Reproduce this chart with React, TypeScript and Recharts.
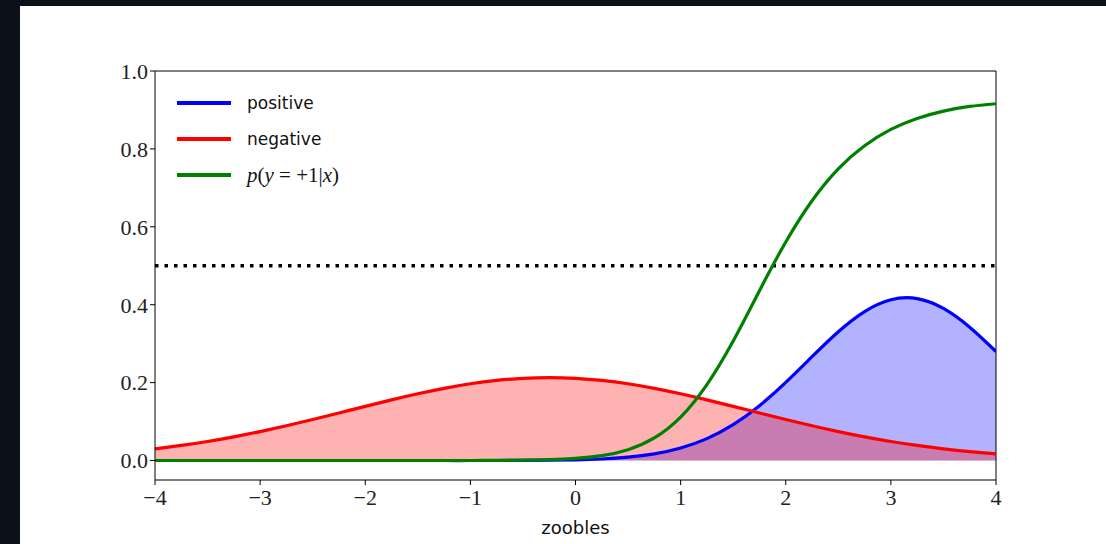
import React from 'react'
import {
  ComposedChart,
  Area,
  Line,
  XAxis,
  YAxis,
  ReferenceLine,
} from 'recharts'

// sample positions along the x axis
const xs = [
  -4, -3.75, -3.5, -3.25, -3, -2.75, -2.5, -2.25, -2, -1.75, -1.5, -1.25, -1, -0.75, -0.5, -0.25,
  0, 0.25, 0.5, 0.75, 1, 1.25, 1.5, 1.75, 2, 2.25, 2.5, 2.75, 3, 3.25, 3.5, 3.75, 4,
]

// class-conditional densities
const positive = [
  0, 0, 0, 0, 0, 0, 0, 0, 0, 0, 0, 0, 0, 0.0001, 0.0003, 0.0007,
  0.0017, 0.0039, 0.0085, 0.017, 0.0321, 0.0563, 0.0921, 0.1407, 0.2005, 0.2665, 0.3306, 0.3824, 0.4128, 0.4157, 0.3905, 0.3422, 0.2798,
]
const negative = [
  0.03, 0.0387, 0.0489, 0.0608, 0.0743, 0.0892, 0.1052, 0.122, 0.139, 0.1557, 0.1713, 0.1853, 0.197, 0.2057, 0.2111, 0.213,
  0.2111, 0.2057, 0.197, 0.1853, 0.1713, 0.1557, 0.139, 0.122, 0.1052, 0.0892, 0.0743, 0.0608, 0.0489, 0.0387, 0.03, 0.0229, 0.0172,
]
// posterior p(y=+1|x)
const posterior = [
  0, 0, 0, 0, 0, 0, 0, 0, 0, 0, 0, 0, 0.0001, 0.0003, 0.0008, 0.0021,
  0.0053, 0.0126, 0.0279, 0.058, 0.1115, 0.195, 0.307, 0.436, 0.561, 0.667, 0.749, 0.808, 0.85, 0.878, 0.897, 0.909, 0.916,
]

const xTicks = [-4, -3, -2, -1, 0, 1, 2, 3, 4]
const yTicks = [0, 0.2, 0.4, 0.6, 0.8, 1.0]

const data = xs.map((x, i) => ({
  x,
  pos: positive[i],
  neg: negative[i],
  post: posterior[i],
}))

const SERIF = '"Liberation Serif", "DejaVu Serif", serif'
const SANS = '"DejaVu Sans", "Open Sans", sans-serif'

const fmtX = (v: number) => (v < 0 ? `\u2212${Math.abs(v)}` : `${v}`)

function LegendBox() {
  const items = [
    { color: '#0000ff', label: <span style={{ fontFamily: SANS }}>positive</span> },
    { color: '#ff0000', label: <span style={{ fontFamily: SANS }}>negative</span> },
    {
      color: '#008000',
      label: (
        <span style={{ fontFamily: SERIF, fontSize: 21 }}>
          <i>p</i>(<i>y</i> = +1|<i>x</i>)
        </span>
      ),
    },
  ]
  return (
    <div style={{ display: 'flex', flexDirection: 'column', gap: 12 }}>
      {items.map((it, i) => (
        <div key={i} style={{ display: 'flex', alignItems: 'center', height: 24 }}>
          <div style={{ width: 54, height: 3.5, background: it.color, marginRight: 16 }} />
          <div style={{ fontSize: 17, color: '#111' }}>{it.label}</div>
        </div>
      ))}
    </div>
  )
}

export default function App() {
  return (
    <div
      style={{
        position: 'fixed',
        left: 0,
        top: 0,
        width: 1106,
        height: 544,
        background: '#0b1118',
      }}
    >
      <div
        style={{
          position: 'absolute',
          left: 20,
          top: 6,
          width: 1086,
          height: 538,
          background: '#ffffff',
        }}
      />
      <div style={{ position: 'absolute', left: 0, top: 0 }}>
        <ComposedChart
          width={1106}
          height={544}
          data={data}
          margin={{ top: 71, right: 110, bottom: 22, left: 95 }}
        >
          <XAxis
            dataKey="x"
            type="number"
            domain={[-4, 4]}
            ticks={xTicks}
            tickFormatter={fmtX}
            allowDataOverflow
            height={42}
            stroke="#000"
            tickSize={5}
            tickMargin={4}
            tick={{ fill: '#222', fontFamily: SERIF, fontSize: 22 }}
            label={{
              value: 'zoobles',
              position: 'insideBottom',
              offset: -12,
              style: { fill: '#111', fontFamily: SANS, fontSize: 18 },
            }}
          />
          <YAxis
            type="number"
            domain={[-0.05, 1]}
            ticks={yTicks}
            tickFormatter={(v: number) => v.toFixed(1)}
            allowDataOverflow
            width={60}
            stroke="#000"
            tickSize={5}
            tick={{ fill: '#222', fontFamily: SERIF, fontSize: 22 }}
          />
          <ReferenceLine y={1} stroke="#000" strokeWidth={1} />
          <ReferenceLine x={4} stroke="#000" strokeWidth={1} />
          <Area
            dataKey="pos"
            type="natural"
            stroke="none"
            fill="#0000ff"
            fillOpacity={0.3}
            baseValue={0}
            isAnimationActive={false}
          />
          <Area
            dataKey="neg"
            type="natural"
            stroke="none"
            fill="#ff0000"
            fillOpacity={0.3}
            baseValue={0}
            isAnimationActive={false}
          />
          <ReferenceLine
            y={0.5}
            stroke="#000"
            strokeWidth={3.5}
            strokeDasharray="3.5 6"
          />
          <Line
            dataKey="pos"
            type="natural"
            stroke="#0000ff"
            strokeWidth={3.2}
            dot={false}
            isAnimationActive={false}
          />
          <Line
            dataKey="neg"
            type="natural"
            stroke="#ff0000"
            strokeWidth={3.2}
            dot={false}
            isAnimationActive={false}
          />
          <Line
            dataKey="post"
            type="natural"
            stroke="#008000"
            strokeWidth={3.2}
            dot={false}
            isAnimationActive={false}
          />
        </ComposedChart>
      </div>
      <div style={{ position: 'absolute', left: 177, top: 91 }}>
        <LegendBox />
      </div>
    </div>
  )
}
